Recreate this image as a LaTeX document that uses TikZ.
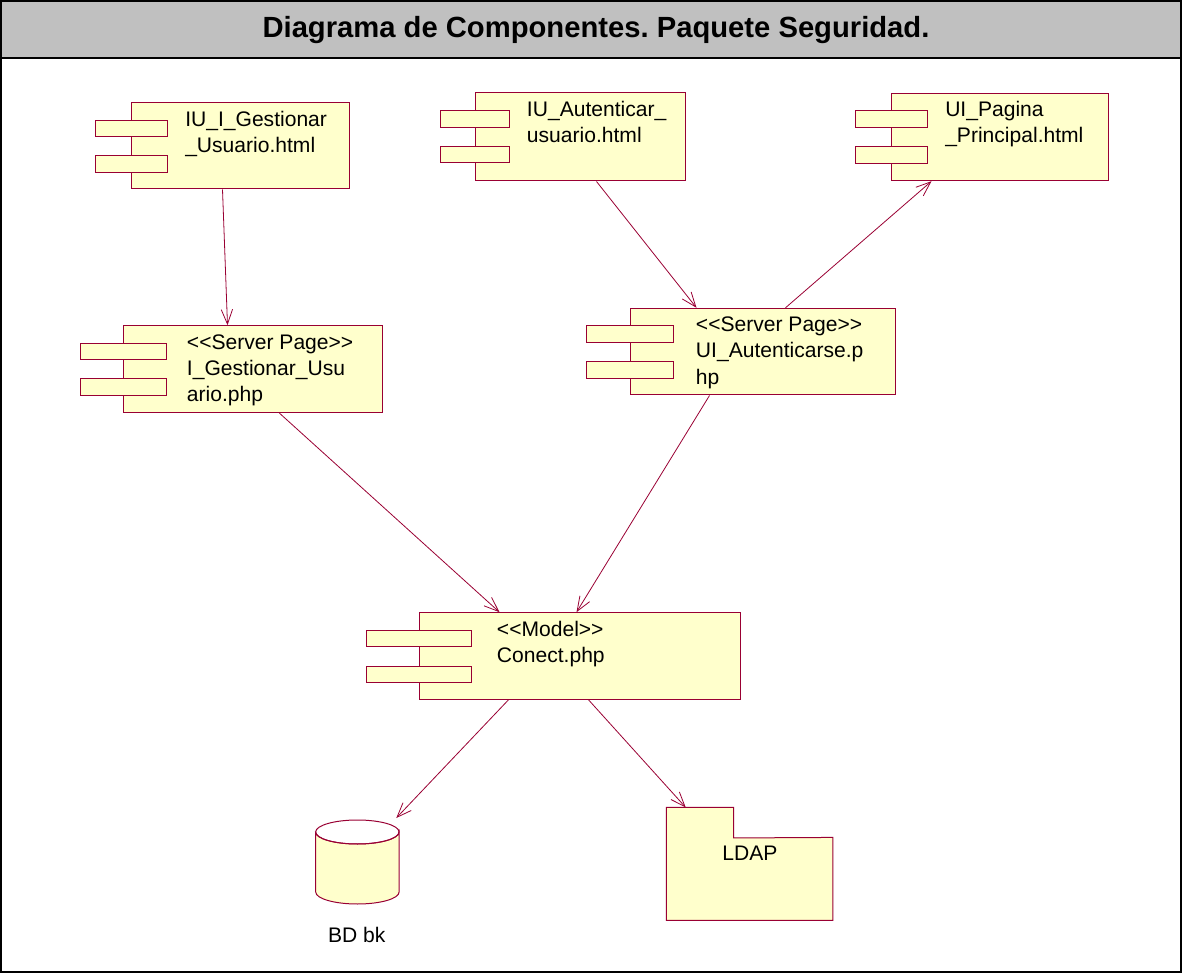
\documentclass[tikz,border=0pt]{standalone}
\usepackage{fontspec}
\setmainfont{Liberation Sans}
\usetikzlibrary{arrows.meta,fit,calc}
\frenchspacing

\definecolor{rose}{HTML}{990033}
\definecolor{compfill}{HTML}{FFFFCC}
\definecolor{headgray}{HTML}{C0C0C0}

\tikzset{
  box/.style={rectangle, draw=rose, fill=compfill, line width=0.75pt, inner sep=0pt},
  ghost/.style={rectangle, inner sep=0pt},
  lbl/.style={inner sep=0pt, anchor=base west, font=\fontsize{15.8}{19.6}\selectfont},
  plain/.style={inner sep=0pt, anchor=base, font=\fontsize{15.8}{19.6}\selectfont},
  dep/.style={draw=rose, line width=0.6pt, -{Straight Barb[length=11pt,width=8.5pt,line width=0.6pt]}},
  frame/.style={draw=black, line width=1.3pt},
}

% UML component: name, left, top, right, bottom, tab left, tab right, text x, text lines
\newcommand\umlcomponent[9]{%
  \node[box, fit={(#2,#3) (#4,#5)}] (#1) {};
  \node[box, fit={(#6,#3+17.5) (#7,#3+34.2)}] (#1-t1) {};
  \node[box, fit={(#6,#3+53.3) (#7,#3+70)}] (#1-t2) {};
  \node[lbl] (#1-text) at (#8,#3+23.5) {\vtop{#9}};
}

\begin{document}
\begin{tikzpicture}[x=0.75pt, y=-0.75pt]
  \useasboundingbox (0,0) rectangle (1182,973);

  % header band and outer frame
  \fill[headgray] (0,0) rectangle (1182,58);
  \draw[frame] (1,1) rectangle (1181,972);
  \draw[frame] (0,58) -- (1182,58);
  \node[anchor=base, inner sep=0pt, font=\fontsize{21.9}{26}\selectfont\bfseries] (title) at (596,38)
    {Diagrama de Componentes. Paquete Seguridad.};

  % components
  \umlcomponent{c1}{131.7}{102.7}{349}{189}{95.7}{167.7}{185}
    {\hbox{IU\_I\_Gestionar}\hbox{\_Usuario.html}}
  \umlcomponent{c2}{475}{93}{685}{181}{440.7}{509}{526.7}
    {\hbox{IU\_Autenticar\_}\hbox{usuario.html}}
  \umlcomponent{c3}{891.7}{93.3}{1108}{180.7}{855.7}{927.3}{945}
    {\hbox{UI\_Pagina}\hbox{\_Principal.html}}
  \umlcomponent{c4}{123.3}{325.7}{382.7}{412.7}{80}{166.7}{186.7}
    {\hbox{<{}<Server Page>{}>}\hbox{I\_Gestionar\_Usu}\hbox{ario.php}}
  \umlcomponent{c5}{630.7}{308.3}{895.7}{395}{586}{673.3}{695.7}
    {\hbox{<{}<Server Page>{}>}\hbox{UI\_Autenticarse.p}\hbox{hp}}
  \umlcomponent{c6}{419.3}{612.7}{740}{699.3}{366}{471.7}{496.7}
    {\hbox{<{}<Model>{}>}\hbox{Conect.php}}

  % database cylinder
  \node[ghost, fit={(315.7,820) (399,904)}] (db) {};
  \filldraw[draw=rose, fill=compfill, line width=0.75pt]
    (315.7,832) -- (315.7,892) arc[start angle=180, end angle=0, x radius=41.7, y radius=12]
    -- (399,832) arc[start angle=0, end angle=180, x radius=41.7, y radius=12] -- cycle;
  \draw[rose, line width=0.75pt] (357.35,832) ellipse [x radius=41.7, y radius=12];
  \node[plain] (dblabel) at (356.7,942) {BD bk};

  % package
  \node[ghost, fit={(666.7,807.7) (733.3,837.7)}] (ldaptab) {};
  \node[ghost, fit={(666.7,837.7) (832.7,920)}] (ldap) {};
  \filldraw[draw=rose, fill=compfill, line width=0.75pt]
    (ldaptab.north west) -- (ldaptab.north east) -- (ldaptab.south east)
    -- (ldap.north east) -- (ldap.south east) -- (ldap.south west) -- cycle;
  \node[plain] (ldaplabel) at (750,860) {LDAP};

  % dependencies
  \draw[dep] ($(c1.south west)+(91.3,0)$) -- ($(c4.north west)+(104.7,0)$);
  \draw[dep] ($(c2.south west)+(122,0)$) -- ($(c5.north west)+(66.3,0)$);
  \draw[dep] ($(c5.north west)+(155.3,0)$) -- ($(c3.south west)+(40.3,0)$);
  \draw[dep] ($(c4.south west)+(156.7,0)$) -- ($(c6.north west)+(80.7,0)$);
  \draw[dep] ($(c5.south west)+(79.3,0)$) -- ($(c6.north west)+(157.7,0)$);
  \draw[dep] ($(c6.south west)+(89.7,0)$) -- ($(db.north east)+(-3,-1.7)$);
  \draw[dep] ($(c6.south west)+(169.7,0)$) -- ($(ldaptab.north west)+(19.3,0)$);
\end{tikzpicture}
\end{document}
